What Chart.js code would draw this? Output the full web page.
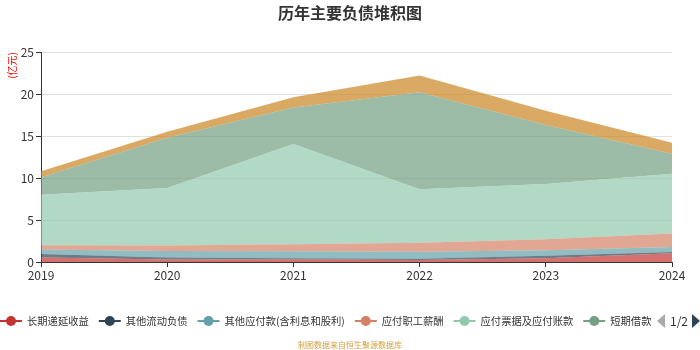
<!DOCTYPE html>
<html>
<head>
<meta charset="utf-8">
<script src="https://cdn.jsdelivr.net/npm/chart.js@4.4.0/dist/chart.umd.min.js"></script>
<style>
  html, body { margin: 0; padding: 0; background: #fff; }
  #wrap { width: 700px; height: 350px; position: relative; }
</style>
</head>
<body>
<div id="wrap"><canvas id="chart"></canvas></div>
<script>
// 历年主要负债（亿元），自下而上堆积
const years = ['2019', '2020', '2021', '2022', '2023', '2024'];
const seriesNames = ['长期递延收益', '其他流动负债', '其他应付款(含利息和股利)', '应付职工薪酬', '应付票据及应付账款', '短期借款', '一年内到期的非流动负债'];
const deferredIncome = [0.55, 0.3, 0.3, 0.25, 0.45, 1.03];
const otherCurrent = [0.4, 0.25, 0.15, 0.15, 0.3, 0.17];
const otherPayables = [0.55, 0.75, 0.82, 0.83, 0.65, 0.6];
const staffPay = [0.5, 0.65, 0.83, 1.07, 1.3, 1.6];
const notesAccounts = [6.0, 6.85, 11.95, 6.35, 6.6, 7.1];
const shortLoans = [2.1, 6.0, 4.35, 11.55, 7.0, 2.4];
const dueNonCurrent = [0.7, 0.7, 1.2, 2.0, 1.7, 1.3];
const yTicks = [0, 5, 10, 15, 20, 25];

const colors = ['#c23531', '#2f4554', '#61a0a8', '#d48265', '#91c7ae', '#749f83', '#ca8622'];
const allSeries = [deferredIncome, otherCurrent, otherPayables, staffPay, notesAccounts, shortLoans, dueNonCurrent];

function withAlpha(hex, a) {
  const n = parseInt(hex.slice(1), 16);
  return `rgba(${n >> 16},${(n >> 8) & 255},${n & 255},${a})`;
}

const datasets = allSeries.map((vals, i) => ({
  label: seriesNames[i],
  data: vals,
  legendColor: colors[i],
  backgroundColor: withAlpha(colors[i], 0.7),
  borderWidth: 0,
  pointRadius: 0,
  tension: 0,
  fill: i === 0 ? 'origin' : '-1'
}));

const FONT = '"Noto Sans CJK SC", "Noto Sans", sans-serif';

// 标题、滚动图例、来源说明
const decorations = {
  id: 'decorations',
  afterDraw(chart) {
    const ctx = chart.ctx;
    ctx.save();
    ctx.textBaseline = 'middle';

    ctx.font = 'bold 16px ' + FONT;
    ctx.fillStyle = '#333';
    ctx.textAlign = 'center';
    ctx.fillText('历年主要负债堆积图', 350, 13);

    // legend row, clipped before the pager
    const ly = 321;
    ctx.save();
    ctx.beginPath();
    ctx.rect(0, ly - 12, 654, 24);
    ctx.clip();
    ctx.font = '10.3px ' + FONT;
    ctx.textAlign = 'left';
    let x = 0;
    chart.data.datasets.forEach(ds => {
      ctx.strokeStyle = ds.legendColor;
      ctx.lineWidth = 2;
      ctx.beginPath();
      ctx.moveTo(x, ly);
      ctx.lineTo(x + 22, ly);
      ctx.stroke();
      ctx.fillStyle = ds.legendColor;
      ctx.beginPath();
      ctx.arc(x + 11, ly, 5, 0, Math.PI * 2);
      ctx.fill();
      ctx.fillStyle = '#333';
      ctx.fillText(ds.label, x + 27, ly);
      x += 27 + ctx.measureText(ds.label).width + 10;
    });
    ctx.restore();

    // pager
    ctx.fillStyle = '#aaa';
    ctx.beginPath();
    ctx.moveTo(665, ly - 7);
    ctx.lineTo(657, ly);
    ctx.lineTo(665, ly + 7);
    ctx.closePath();
    ctx.fill();
    ctx.fillStyle = '#2f4554';
    ctx.beginPath();
    ctx.moveTo(692, ly - 7);
    ctx.lineTo(700, ly);
    ctx.lineTo(692, ly + 7);
    ctx.closePath();
    ctx.fill();
    ctx.font = '12px ' + FONT;
    ctx.fillStyle = '#333';
    ctx.textAlign = 'center';
    ctx.fillText('1/2', 679, ly);

    ctx.font = '8px ' + FONT;
    ctx.fillStyle = '#d4a03c';
    ctx.fillText('制图数据来自恒生聚源数据库', 350, 345);
    ctx.restore();
  }
};

new Chart(document.getElementById('chart'), {
  type: 'line',
  data: { labels: years, datasets: datasets },
  options: {
    responsive: true,
    maintainAspectRatio: false,
    animation: false,
    layout: { padding: { top: 52, right: 28, bottom: 66, left: 0 } },
    plugins: {
      legend: { display: false },
      title: { display: false },
      tooltip: { enabled: false }
    },
    scales: {
      x: {
        offset: false,
        grid: { drawOnChartArea: false, drawTicks: true, tickLength: 5, tickColor: '#333' },
        border: { color: '#333' },
        ticks: { color: '#333', font: { size: 12, family: FONT }, padding: 1, maxRotation: 0 },
        afterFit: s => { s.height = 22; }
      },
      y: {
        stacked: true,
        min: 0,
        max: 25,
        afterBuildTicks: s => { s.ticks = yTicks.map(v => ({ value: v })); },
        grid: { color: '#e0e0e0', tickLength: 5, tickColor: '#333' },
        border: { color: '#333' },
        ticks: { color: '#333', font: { size: 12, family: FONT }, padding: 2 },
        title: {
          display: true,
          text: '(亿元)',
          align: 'end',
          color: '#f00',
          font: { size: 10, family: FONT },
          padding: { top: 6, bottom: 0 }
        },
        afterFit: s => { s.width = 41; }
      }
    }
  },
  plugins: [decorations]
});
</script>
</body>
</html>
